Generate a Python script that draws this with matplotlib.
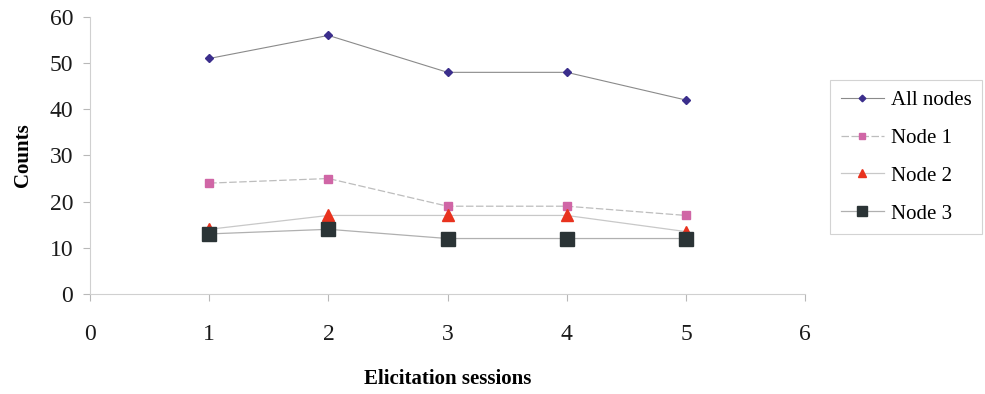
import matplotlib
matplotlib.use("Agg")
import matplotlib.pyplot as plt

plt.rcParams['font.family'] = ['Liberation Serif', 'DejaVu Serif']

sessions = [1, 2, 3, 4, 5]
all_nodes = [51, 56, 48, 48, 42]
node1 = [24, 25, 19, 19, 17]
node2 = [14, 17, 17, 17, 13.5]
node3 = [13, 14, 12, 12, 12]

fig = plt.figure(figsize=(9.85, 3.94), dpi=100)
ax = fig.add_axes([0.0914, 0.254, 0.726, 0.703])

ax.plot(sessions, all_nodes, color='#8a8a8a', lw=0.8, marker='D', ms=4.5,
        mfc='#3b2e8c', mec='#3b2e8c', label='All nodes')
ax.plot(sessions, node1, color='#bdbdbd', lw=0.9, ls=(0, (6, 2)), marker='s', ms=6,
        mfc='#d066a6', mec='#d066a6', label='Node 1')
ax.plot(sessions, node2, color='#c8c8c8', lw=0.9, marker='^', ms=8,
        mfc='#e8321e', mec='#e8321e', label='Node 2')
ax.plot(sessions, node3, color='#b0b0b0', lw=0.9, marker='s', ms=10,
        mfc='#2b3436', mec='#2b3436', label='Node 3')

ax.set_xlim(0, 6)
ax.set_ylim(0, 60)
ax.set_xticks(range(0, 7))
ax.set_yticks(range(0, 61, 10))
for s in ['top', 'right']:
    ax.spines[s].set_visible(False)
for s in ['left', 'bottom']:
    ax.spines[s].set_color('#d0d0d0')
ax.tick_params(colors='#b8b8b8', labelcolor='#1a1a1a', labelsize=17, length=5)
ax.tick_params(axis='x', pad=17)
ax.tick_params(axis='y', pad=7)
ax.set_xlabel('Elicitation sessions', fontsize=15, fontweight='bold', labelpad=17)
ax.set_ylabel('Counts', fontsize=15, fontweight='bold', labelpad=12)

leg = ax.legend(loc='upper left', bbox_to_anchor=(1.035, 0.7726), fontsize=15,
                frameon=True, fancybox=False, handlelength=2.1, handletextpad=0.3,
                labelspacing=0.88, borderpad=0.5, borderaxespad=0, markerscale=0.75)
leg.get_frame().set_edgecolor('#c8c8c8')
leg.get_frame().set_linewidth(0.8)

fig.savefig('out.png', dpi=100)
